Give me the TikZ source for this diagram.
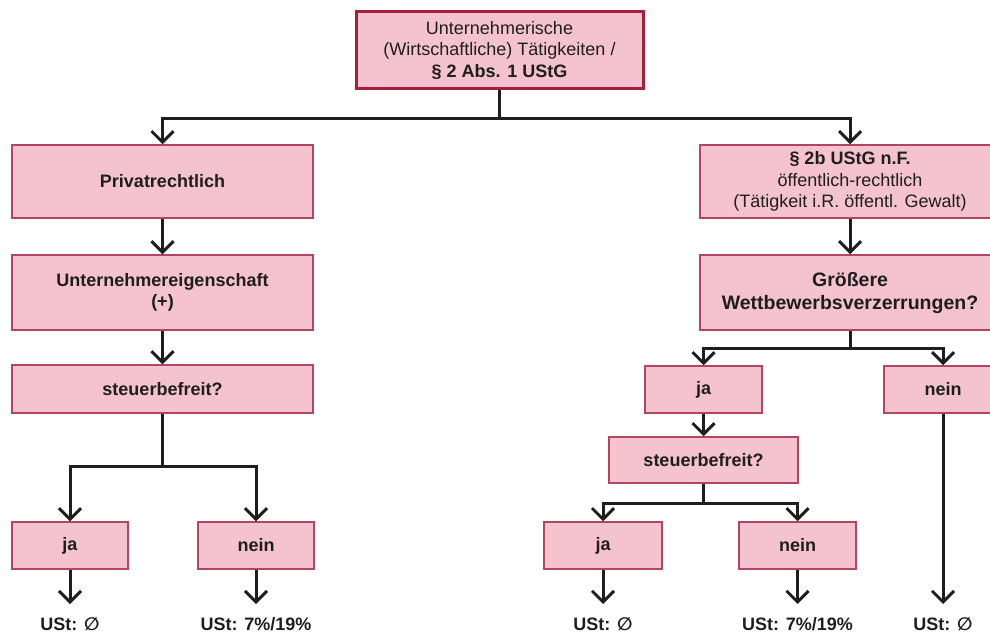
\documentclass[tikz,border=0pt]{standalone}
\usepackage{fontspec}
\setmainfont{Liberation Sans}
\newfontfamily\symfont{DejaVu Sans Bold}
\usetikzlibrary{arrows.meta}
\definecolor{boxfill}{HTML}{F5C3CF}
\definecolor{boxline}{HTML}{B0465F}
\definecolor{topline}{HTML}{A3213F}
\definecolor{ink}{HTML}{1E1E1E}
\newcommand{\leer}{{\symfont\fontsize{18}{18}\selectfont ∅}}

\begin{document}
\begin{tikzpicture}[x=1pt,y=-1pt,
  box/.style={draw=boxline,fill=boxfill,line width=1.5pt,inner sep=0pt,
    align=center,text=ink,font=\fontsize{18}{21.5}\selectfont\bfseries},
  topbox/.style={box,draw=topline,line width=3pt,font=\fontsize{18}{21.5}\selectfont},
  lbl/.style={inner sep=0pt,text height=13pt,text depth=0pt,outer ysep=13pt,
    text=ink,font=\fontsize{18}{20}\selectfont\bfseries},
  line/.style={draw=ink,line width=3pt},
  arr/.style={line,-{Straight Barb[length=11pt,width=22pt]}}]
\clip (0,0) rectangle (990,634);

\node[topbox,minimum width=287pt,minimum height=76pt] (top) at (499.5,50)
  {Unternehmerische\\(Wirtschaftliche) T\"atigkeiten /\\\textbf{\S\ 2 Abs. 1 UStG}};

\node[box,minimum width=301pt,minimum height=73pt] (priv) at (162.5,181.5) {Privatrechtlich};
\node[box,minimum width=301pt,minimum height=75pt] (unt) at (162.5,292.5) {Unternehmereigenschaft\\(+)};
\node[box,minimum width=301pt,minimum height=48pt] (stb1) at (162.5,389) {steuerbefreit?};
\node[box,minimum width=116pt,minimum height=47pt] (ja1) at (70,545.5) {ja};
\node[box,minimum width=116pt,minimum height=47pt] (nein1) at (256,545.5) {nein};

\node[box,minimum width=300pt,minimum height=73pt] (oer) at (850,181.5)
  {\S\ 2b UStG n.F.\\\mdseries \"offentlich-rechtlich\\\mdseries (T\"atigkeit i.R. \"offentl. Gewalt)};
\node[box,minimum width=300pt,minimum height=75pt,font=\fontsize{19.5}{23}\selectfont\bfseries] (wett) at (850,292.5)
  {Gr\"o\ss ere\\Wettbewerbsverzerrungen?};
\node[box,minimum width=117pt,minimum height=47pt] (ja2) at (703.5,389.5) {ja};
\node[box,minimum width=118pt,minimum height=47pt] (nein2) at (943,389.5) {nein};
\node[box,minimum width=189pt,minimum height=46pt] (stb2) at (703.5,460) {steuerbefreit?};
\node[box,minimum width=118pt,minimum height=47pt] (ja3) at (603,545.5) {ja};
\node[box,minimum width=117pt,minimum height=47pt] (nein3) at (797.5,545.5) {nein};

\node[lbl] (ust1) at (70,623.5) {USt: \leer};
\node[lbl] (ust2) at (256,623.5) {USt: 7\%/19\%};
\node[lbl] (ust3) at (603,623.5) {USt: \leer};
\node[lbl] (ust4) at (797.5,623.5) {USt: 7\%/19\%};
\node[lbl] (ust5) at (943,623.5) {USt: \leer};

\coordinate (j0) at (499.5,118);
\coordinate (j1) at (162.5,466);
\coordinate (j2) at (850,348);
\coordinate (j3) at (703.5,503);

\draw[line] (top.south) -- (j0);
\draw[arr] (j0) -| (priv.north);
\draw[arr] (j0) -| (oer.north);
\draw[arr] (priv) -- (unt);
\draw[arr] (unt) -- (stb1);
\draw[line] (stb1.south) -- (j1);
\draw[arr] (j1) -| (ja1.north);
\draw[arr] (j1) -| (nein1.north);
\draw[arr] (ja1) -- (ust1);
\draw[arr] (nein1) -- (ust2);

\draw[arr] (oer) -- (wett);
\draw[line] (wett.south) -- (j2);
\draw[arr] (j2) -| (ja2.north);
\draw[arr] (j2) -| (nein2.north);
\draw[arr] (ja2) -- (stb2);
\draw[line] (stb2.south) -- (j3);
\draw[arr] (j3) -| (ja3.north);
\draw[arr] (j3) -| (nein3.north);
\draw[arr] (ja3) -- (ust3);
\draw[arr] (nein3) -- (ust4);
\draw[arr] (nein2) -- (ust5);
\end{tikzpicture}
\end{document}
